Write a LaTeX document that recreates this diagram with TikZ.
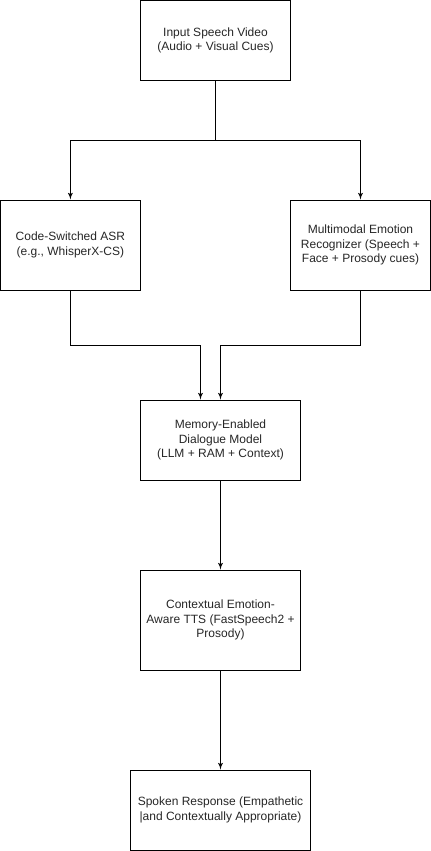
\documentclass[tikz,border=0pt]{standalone}
\usepackage{fontspec}
\setmainfont{Liberation Sans}
\usepackage{tikz}
\usetikzlibrary{arrows}

\begin{document}
\begin{tikzpicture}[x=0.75pt, y=-0.75pt]
        \tikzset{block/.style = {shape=rectangle, draw, line width=0.75pt, inner sep=0pt, align=center,
                font=\fontsize{9}{10.9}\selectfont, text=black!85}}
        \tikzset{edge/.style = {->, > = latex', line width=0.75pt}}

        \useasboundingbox (0,0) rectangle (431,851);

        % blocks
        \node[block, minimum width=112.5pt, minimum height=60pt] (input) at (215.5,40.3)
            {Input Speech Video\\ (Audio + Visual Cues)};
        \node[block, minimum width=105pt, minimum height=67.5pt] (asr) at (70.4,245)
            {Code-Switched ASR\\ (e.g., WhisperX-CS)};
        \node[block, minimum width=105pt, minimum height=67.5pt] (emo) at (360.5,245)
            {Multimodal Emotion\\Recognizer (Speech +\\ Face + Prosody cues)};
        \node[block, minimum width=120pt, minimum height=60pt] (mem) at (220.5,440)
            {Memory-Enabled\\ Dialogue Model\\(LLM + RAM + Context)};
        \node[block, minimum width=120pt, minimum height=75pt] (tts) at (220.5,620)
            {Contextual Emotion-\\Aware TTS (FastSpeech2 +\\Prosody)};
        \node[block, minimum width=135pt, minimum height=60pt] (resp) at (220.5,810)
            {Spoken Response (Empathetic\\|and Contextually Appropriate)};

        % edges
        \draw[edge] (input.south) -- ++(0,60) -| (asr.north);
        \draw[edge] (input.south) -- ++(0,60) -| (emo.north);
        \draw[edge] (asr.south) -- ++(0,55) -| ([xshift=-15pt]mem.north);
        \draw[edge] (emo.south) -- ++(0,55) -| (mem.north);
        \draw[edge] (mem) to (tts);
        \draw[edge] (tts) to (resp);

\end{tikzpicture}
\end{document}
